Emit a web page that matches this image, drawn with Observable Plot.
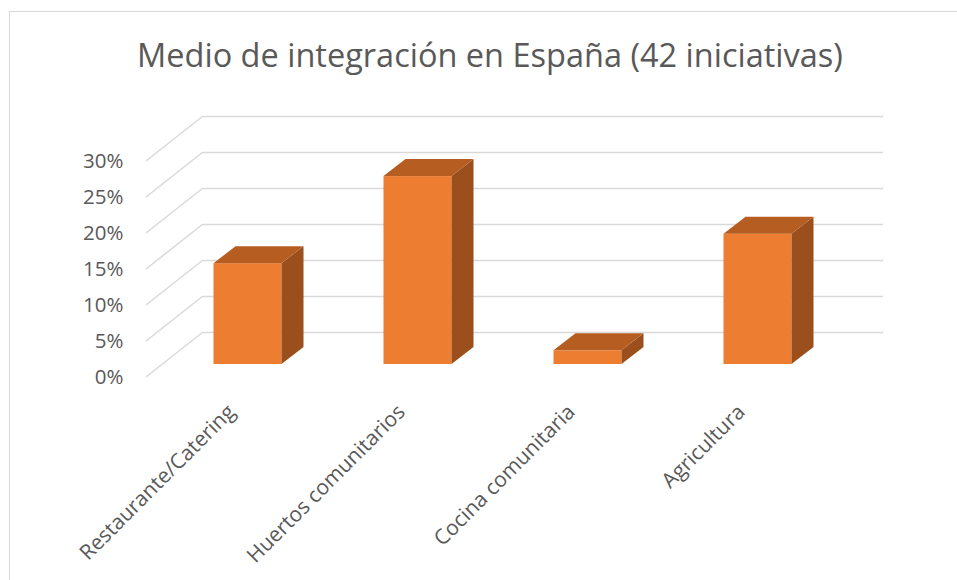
<!DOCTYPE html>
<html>
<head>
<meta charset="utf-8">
<script src="https://cdn.jsdelivr.net/npm/d3@7"></script>
<script src="https://cdn.jsdelivr.net/npm/@observablehq/plot@0.6"></script>
<style>
  body { margin: 0; background: #fff; }
  #wrap { position: relative; width: 957px; height: 580px; overflow: hidden; font-family: "Open Sans", sans-serif; }
  #border { position: absolute; left: 9px; top: 11px; right: -10px; bottom: -10px;
            border-left: 1.5px solid #d9d9d9; border-top: 1.5px solid #d9d9d9; }
  #title { position: absolute; left: 0; width: 980px; top: 32px; text-align: center;
           font-size: 32.5px; color: #595959; white-space: nowrap; }
  #chart { position: absolute; left: 0; top: 0; }
</style>
</head>
<body>
<div id="wrap">
  <div id="border"></div>
  <div id="title">Medio de integración en España (42 iniciativas)</div>
  <div id="chart"></div>
</div>
<script>
// ---- data ----
const categories = ["Restaurante/Catering", "Huertos comunitarios", "Cocina comunitaria", "Agricultura"];
const shares = [0.140, 0.261, 0.019, 0.181];
const yTicks = [0, 0.05, 0.10, 0.15, 0.20, 0.25, 0.30];

const data = categories.map((c, i) => ({category: c, share: shares[i]}));

// ---- 3D look (pixel geometry of the oblique projection) ----
const wallDX = 57, wallDY = -45;           // floor depth
const barOffX = 16.5, barOffY = -13;        // bar front face inside the floor
const barDX = 22, barDY = -17;              // bar depth
const cFront = "#ED7D31", cTop = "#B65E22", cSide = "#9B4F1C";
const gridColor = "#d9d9d9";

// left wall diagonals (through Plot's y scale)
function leftWall(index, scales, values, dimensions) {
  const g = d3.create("svg:g");
  const x0 = dimensions.marginLeft;
  for (const t of yTicks) {
    const y = scales.y(t);
    g.append("line")
      .attr("x1", x0).attr("y1", y)
      .attr("x2", x0 + wallDX).attr("y2", y + wallDY)
      .attr("stroke", gridColor).attr("stroke-width", 1.5);
  }
  return g.node();
}

// top and side faces of each bar (through Plot's x and y scales)
function barFaces(index, scales) {
  const g = d3.create("svg:g");
  const bw = scales.x.bandwidth();
  for (const d of data) {
    const xa = scales.x(d.category) + barOffX;
    const xb = xa + bw;
    const yt = scales.y(d.share) + barOffY;
    const yb = scales.y(0) + barOffY;
    g.append("polygon")
      .attr("points", [[xb, yb], [xb, yt], [xb + barDX, yt + barDY], [xb + barDX, yb + barDY]].join(" "))
      .attr("fill", cSide);
    g.append("polygon")
      .attr("points", [[xa, yt], [xb, yt], [xb + barDX, yt + barDY], [xa + barDX, yt + barDY]].join(" "))
      .attr("fill", cTop);
  }
  return g.node();
}

const chart = Plot.plot({
  width: 957,
  height: 580,
  marginLeft: 146,
  marginRight: 131,
  marginTop: 161,
  marginBottom: 203,
  style: {fontFamily: "Open Sans", fontSize: "20.5px", color: "#595959", background: "transparent"},
  x: {domain: categories, paddingInner: 0.6, paddingOuter: 0.3, axis: null},
  y: {domain: [0, 0.30], ticks: yTicks, tickFormat: d3.format(".0%"), tickSize: 0, tickPadding: 23, label: null},
  marks: [
    Plot.ruleY(yTicks, {dx: wallDX, dy: wallDY, stroke: gridColor, strokeWidth: 1.5}),
    leftWall,
    Plot.barY(data, {x: "category", y: "share", fill: cFront, dx: barOffX, dy: barOffY}),
    barFaces,
    Plot.text(data, {
      x: "category", text: "category", frameAnchor: "bottom",
      rotate: -45, textAnchor: "end", lineAnchor: "middle",
      dy: 31, fontSize: 21, fill: "#595959"
    })
  ]
});
document.getElementById("chart").appendChild(chart);
</script>
</body>
</html>
